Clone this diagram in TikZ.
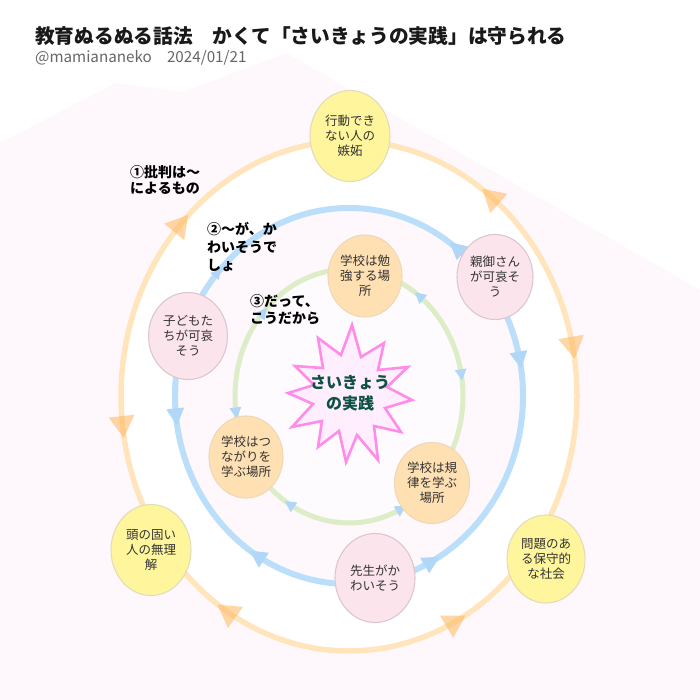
\documentclass[tikz,border=0pt]{standalone}
\usepackage{fontspec}
\setmainfont{Noto Sans CJK JP}
\usetikzlibrary{shapes.geometric,calc}
\definecolor{bgpink}{HTML}{FEF8FD}
\definecolor{ringO}{HTML}{FFE4BC}
\definecolor{ringB}{HTML}{BBDEFB}
\definecolor{ringG}{HTML}{DCEDC8}
\definecolor{arrO}{HTML}{FFB75E}
\definecolor{arrB}{HTML}{B0D6F8}
\definecolor{yfill}{HTML}{FFF59D}
\definecolor{ybord}{HTML}{E2DDB8}
\definecolor{pfill}{HTML}{FCE4EC}
\definecolor{pbord}{HTML}{DCC8CC}
\definecolor{ofill}{HTML}{FFE0B2}
\definecolor{obord}{HTML}{EFD8B6}
\definecolor{txt}{HTML}{333333}
\definecolor{starline}{HTML}{FF8BEA}
\definecolor{starfill}{HTML}{FFEEFD}
\definecolor{startxt}{HTML}{0D5046}
\definecolor{subgrey}{HTML}{666666}
\tikzset{
  bub/.style={ellipse, draw=#1, line width=1.1pt, inner sep=0pt, align=center, text=txt,
    font=\fontsize{12.5}{15}\selectfont},
  ybub/.style={bub=ybord, fill=yfill, minimum width=80, minimum height=91},
  pbub/.style={bub=pbord, fill=pfill, minimum width=79, minimum height=87},
  obub/.style={bub=obord, fill=ofill, minimum width=74, minimum height=82},
  lab/.style={anchor=west, align=left, inner sep=0pt, text=black},
  ringo/.style={draw=ringO, line width=5.5pt},
  ringb/.style={draw=ringB, line width=6pt},
  ringg/.style={draw=ringG, line width=5pt},
  arro/.style={fill=arrO, fill opacity=0.55},
  arrb/.style={fill=arrB},
  starsty/.style={draw=starline, fill=starfill, line width=2.6pt, line join=miter},
}
% rx ry angle offset length halfwidth style
\newcommand\ringarr[7]{%
  \pgfmathsetmacro\rang{atan2((#2)*cos(#3), -(#1)*sin(#3)) + (#4)}%
  \begin{scope}[shift={($(ctr)+(#3:#1 and #2)$)}, rotate=\rang]
    \fill[#7] (#5/2,0) -- (-#5/2,#6) -- (-#5/2,-#6) -- cycle;
  \end{scope}}
\begin{document}
\begin{tikzpicture}[x=1pt,y=1pt]
\useasboundingbox (0,0) rectangle (700,-700);
\fill[white] (0,0) rectangle (700,-700);
\fill[bgpink] (0,-143) -- (116,-83) -- (183,-92) -- (286,-53) -- (700,-290) -- (700,-700) -- (0,-700) -- cycle;
\coordinate (ctr) at (349,-396);
\fill[white] (ctr) ellipse [x radius=231, y radius=258];
\fill[bgpink] (ctr) ellipse [x radius=171, y radius=185];
\fill[white!50!bgpink] (ctr) ellipse [x radius=111, y radius=124];

% rings
\draw[ringo] (ctr) ellipse [x radius=228, y radius=255];
\draw[ringb] (ctr) ellipse [x radius=174, y radius=188];
\draw[ringg] (ctr) ellipse [x radius=114, y radius=127];

% arrowheads, outer ring
\ringarr{228}{255}{137.4}{180}{22}{13}{arro}
\ringarr{228}{255}{51.6}{0}{22}{13}{arro}
\ringarr{228}{255}{10.9}{180}{22}{13}{arro}
\ringarr{228}{255}{-62}{0}{22}{13}{arro}
\ringarr{228}{255}{237.5}{180}{22}{13}{arro}
\ringarr{228}{255}{187}{0}{22}{13}{arro}
% arrowheads, middle ring
\ringarr{174}{188}{139}{180}{10}{5.5}{arrb}
\ringarr{174}{188}{52}{0}{17}{9}{arrb}
\ringarr{174}{188}{11}{180}{17}{9}{arrb}
\ringarr{174}{188}{-61.5}{0}{17}{9}{arrb}
\ringarr{174}{188}{238}{180}{17}{9}{arrb}
\ringarr{174}{188}{186.4}{0}{17}{9}{arrb}
% arrowheads, inner ring
\ringarr{114}{127}{52}{0}{11}{6}{arrb}
\ringarr{114}{127}{9.6}{180}{11}{6}{arrb}
\ringarr{114}{127}{-62.6}{0}{11}{6}{arrb}
\ringarr{114}{127}{238.5}{180}{11}{6}{arrb}
\ringarr{114}{127}{187.7}{0}{11}{6}{arrb}
\ringarr{114}{127}{138.8}{180}{11}{6}{arrb}

% nodes
\node[ybub] (t) at (350,-136) {行動でき\\ない人の\\嫉妬};
\node[ybub] (bl) at (151,-550) {頭の固い\\人の無理\\解};
\node[ybub, minimum width=78, minimum height=88] (br) at (546,-559) {問題のあ\\る保守的\\な社会};
\node[pbub] (c) at (188,-336) {子どもた\\ちが可哀\\そう};
\node[pbub, minimum width=76, minimum height=85] (p) at (495,-277) {親御さん\\が可哀そ\\う};
\node[pbub, minimum width=80, minimum height=89] (s) at (375,-578) {先生がか\\わいそう};
\node[obub] (g1) at (365,-276) {学校は勉\\強する場\\所};
\node[obub] (g2) at (246,-457) {学校はつ\\ながりを\\学ぶ場所};
\node[obub, minimum width=75, minimum height=81] (g3) at (432,-483) {学校は規\\律を学ぶ\\場所};

% star
\draw[starsty] (352,-325) -- (361,-357) -- (384,-343) -- (378,-370) -- (408,-367) -- (387,-387)
  -- (412,-400) -- (385,-408) -- (401,-432) -- (374,-426) -- (378,-460) -- (357,-435)
  -- (346,-462) -- (339,-431) -- (318,-447) -- (322,-421) -- (292,-427) -- (313,-404)
  -- (288,-393) -- (314,-385) -- (295,-366) -- (323,-368) -- (318,-338) -- (341,-355) -- cycle;
\node[align=center, inner sep=0pt, text=startxt, font=\bfseries\fontsize{16}{20.5}\selectfont] (core) at (350,-393) {さいきょう\\の実践};

% labels
\node[lab, font=\bfseries\fontsize{14}{16.7}\selectfont] (l1) at (130,-180) {①批判は〜\\によるもの};
\node[lab, font=\bfseries\fontsize{14}{18}\selectfont] (l2) at (207,-247) {②〜が、か\\わいそうで\\しょ};
\node[lab, font=\bfseries\fontsize{14}{16.7}\selectfont] (l3) at (250,-310) {③だって、\\こうだから};

% title
\node[anchor=base west, inner sep=0pt, text=black!90, font=\bfseries\fontsize{19.7}{22}\selectfont] (title) at (35,-44) {教育ぬるぬる話法　かくて「さいきょうの実践」は守られる};
\node[anchor=base west, inner sep=0pt, text=subgrey, font=\fontsize{15.2}{18}\selectfont] (sub) at (35,-63) {@mamiananeko　2024/01/21};
\end{tikzpicture}
\end{document}
